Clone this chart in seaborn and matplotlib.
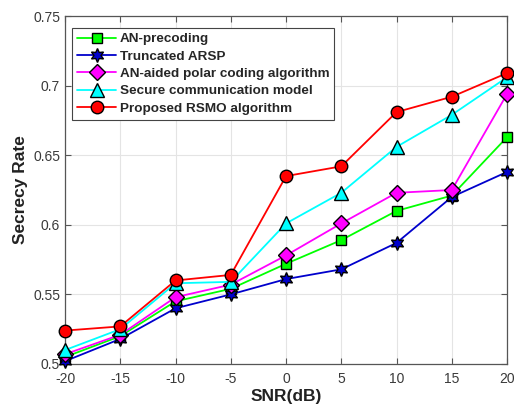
import numpy as np
import pandas as pd
import matplotlib
matplotlib.use("Agg")
import matplotlib.pyplot as plt
import seaborn as sns

snr_db = [-20, -15, -10, -5, 0, 5, 10, 15, 20]

an_precoding = [0.505, 0.520, 0.545, 0.554, 0.572, 0.589, 0.610, 0.621, 0.663]
truncated_arsp = [0.502, 0.518, 0.540, 0.550, 0.561, 0.568, 0.587, 0.620, 0.638]
an_polar = [0.507, 0.521, 0.548, 0.557, 0.578, 0.601, 0.623, 0.625, 0.694]
secure_comm = [0.510, 0.525, 0.558, 0.559, 0.601, 0.623, 0.656, 0.679, 0.706]
proposed_rsmo = [0.524, 0.527, 0.560, 0.564, 0.635, 0.642, 0.681, 0.692, 0.709]

series_names = [
    "AN-precoding",
    "Truncated ARSP",
    "AN-aided polar coding algorithm",
    "Secure communication model",
    "Proposed RSMO algorithm",
]
series_values = [an_precoding, truncated_arsp, an_polar, secure_comm, proposed_rsmo]

x_ticks = [-20, -15, -10, -5, 0, 5, 10, 15, 20]
y_ticks = [0.5, 0.55, 0.6, 0.65, 0.7, 0.75]
y_tick_labels = ["0.5", "0.55", "0.6", "0.65", "0.7", "0.75"]

df = pd.DataFrame(
    [(n, x, v) for n, vals in zip(series_names, series_values) for x, v in zip(snr_db, vals)],
    columns=["method", "snr", "rate"],
)

colors = ["#00ff00", "#0000cc", "#ff00ff", "#00ffff", "#ff0000"]
markers = ["s", (6, 1, 0), "D", "^", "o"]
msizes = [7, 10, 8.5, 9.5, 9]

sns.set_theme(style="white")
plt.rcParams["font.family"] = ["Liberation Sans", "DejaVu Sans"]

fig = plt.figure(figsize=(5.14, 4.11), dpi=100)
ax = fig.add_axes([0.1265, 0.1144, 0.86, 0.8466])

for name, c, m, ms in zip(series_names, colors, markers, msizes):
    sns.lineplot(
        data=df[df["method"] == name], x="snr", y="rate", ax=ax,
        color=c, marker=m, markersize=ms, markeredgecolor="black",
        markeredgewidth=1.0, markerfacecolor=c, linewidth=1.3,
        label=name, clip_on=False, zorder=3,
    )

ax.set_xlim(-20, 20)
ax.set_ylim(0.5, 0.75)
ax.set_xticks(x_ticks)
ax.set_xticklabels([str(t) for t in x_ticks])
ax.set_yticks(y_ticks)
ax.set_yticklabels(y_tick_labels)
ax.grid(True, color="#e4e4e4", linewidth=0.8)
ax.set_axisbelow(True)
ax.tick_params(direction="in", length=4, width=0.8, color="#555555",
               labelcolor="#3a3a3a", labelsize=10, top=True, right=True,
               bottom=True, left=True)
ax.tick_params(axis="x", pad=6)
for s in ax.spines.values():
    s.set_color("#555555")
    s.set_linewidth(0.9)

ax.set_xlabel("SNR(dB)", fontsize=12.5, fontweight="bold", color="#222222", labelpad=2)
ax.set_ylabel("Secrecy Rate", fontsize=12.5, fontweight="bold", color="#222222", labelpad=4)

leg = ax.legend(loc="upper left", bbox_to_anchor=(0.016, 0.966), fancybox=False,
                framealpha=1, edgecolor="#444444",
                prop={"weight": "bold", "size": 9.7}, handlelength=2.9,
                handletextpad=0.25, labelspacing=0.36, borderpad=0.38,
                borderaxespad=0.0)
leg.get_frame().set_linewidth(0.8)

fig.savefig("out.png", dpi=100)
